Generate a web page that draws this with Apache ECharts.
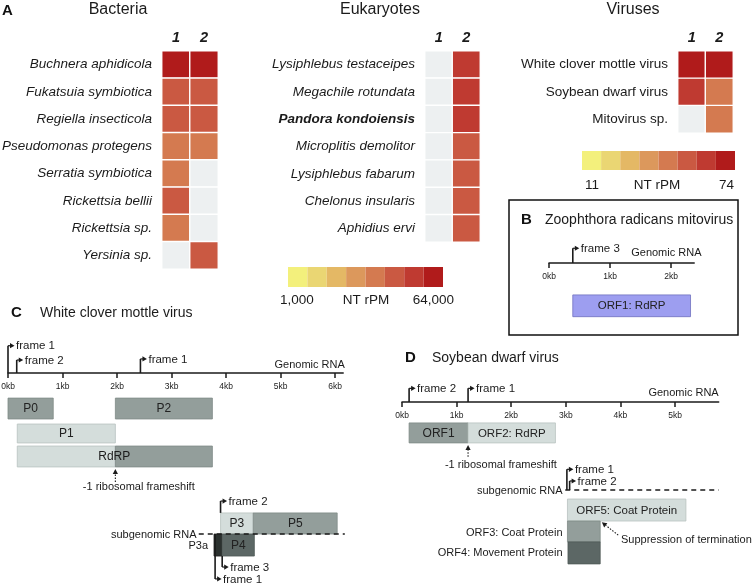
<!DOCTYPE html>
<html><head><meta charset="utf-8">
<script src="https://cdn.jsdelivr.net/npm/echarts@6/dist/echarts.min.js"></script>
<style>html,body{margin:0;padding:0;background:#fff}#c{width:752px;height:585px}</style>
</head><body><div id="c"></div>
<script>
// ---------------- DATA ----------------
const sampleCols = ['1', '2'];

const bacteria = ['Buchnera aphidicola', 'Fukatsuia symbiotica', 'Regiella insecticola', 'Pseudomonas protegens',
  'Serratia symbiotica', 'Rickettsia bellii', 'Rickettsia sp.', 'Yersinia sp.'];
const bacteriaS1 = [50000, 18000, 18000, 10000, 10000, 18000, 10000, null];
const bacteriaS2 = [50000, 18000, 18000, 10000, null, null, null, 18000];

const eukaryotes = ['Lysiphlebus testaceipes', 'Megachile rotundata', 'Pandora kondoiensis', 'Microplitis demolitor',
  'Lysiphlebus fabarum', 'Chelonus insularis', 'Aphidius ervi'];
const eukaryotesS1 = [null, null, null, null, null, null, null];
const eukaryotesS2 = [30000, 30000, 30000, 18000, 18000, 18000, 18000];
const boldNames = ['Pandora kondoiensis'];

const viruses = ['White clover mottle virus', 'Soybean dwarf virus', 'Mitovirus sp.'];
const virusesS1 = [68, 52, null];
const virusesS2 = [68, 32, 32];

const rpmRange = [1000, 64000];
const rpmLabels = ['1,000', 'NT rPM', '64,000'];
const virusRange = [11, 74];
const virusLabels = ['11', 'NT rPM', '74'];

// B: Zoophthora radicans mitovirus  [label, startKb, endKb, lane, shade]
const zrmvTicks = [0, 1, 2];
const zrmvORFs = [['ORF1: RdRP', 0.39, 2.32, 0, 'purple']];
const zrmvFrames = [['frame 3', 0.39, 0, -0.67]];          // [label, kb, fromRow, toRow]
const zrmvNotes = [['Genomic RNA', 2.50, -0.49, 'right']]; // [text, kb, row, align]

// C: White clover mottle virus
const wcmvTicks = [0, 1, 2, 3, 4, 5, 6];
const wcmvORFs = [
  ['P0', 0.00, 0.83, 0, 'mid'],
  ['P2', 1.97, 3.75, 0, 'mid'],
  ['P1', 0.17, 1.97, 1, 'light'],
  ['', 0.17, 1.97, 2, 'light'],
  ['', 1.97, 3.75, 2, 'mid'],
  ['P3', 3.90, 4.50, 3, 'light'],
  ['P5', 4.50, 6.04, 3, 'mid'],
  ['', 3.78, 3.93, 4, 'black'],
  ['P4', 3.93, 4.52, 4, 'dark']
];
const wcmvFrames = [
  ['frame 1', 0.00, 0, -1.24],
  ['frame 2', 0.16, 0, -0.59],
  ['frame 1', 2.43, 0, -0.64],
  ['frame 2', 3.90, 6.36, 5.82],
  ['frame 3', 3.93, 8.32, 8.82],
  ['frame 1', 3.80, 7.32, 9.36]
];
const wcmvNotes = [
  ['Genomic RNA', 6.18, -0.41, 'right'],
  ['RdRP', 1.95, 3.80, 'center'],
  ['-1 ribosomal frameshift', 2.40, 5.14, 'center'],
  ['subgenomic RNA', 3.46, 7.32, 'right'],
  ['P3a', 3.67, 7.82, 'right']
];
const wcmvSubRNA = [[3.50, 6.18, 7.32]];
const wcmvPointers = [[1.97, 4.95, 1.97, 4.36]];

// D: Soybean dwarf virus
const sbdvTicks = [0, 1, 2, 3, 4, 5];
const sbdvORFs = [
  ['ORF1', 0.13, 1.21, 0, 'mid'],
  ['ORF2: RdRP', 1.21, 2.81, 0, 'light'],
  ['ORF5: Coat Protein', 3.03, 5.20, 1, 'light'],
  ['', 3.03, 3.63, 2, 'mid'],
  ['', 3.04, 3.63, 3, 'dark']
];
const sbdvFrames = [
  ['frame 2', 0.13, 0, -0.62],
  ['frame 1', 1.21, 0, -0.62],
  ['frame 1', 3.02, 4.0, 3.06],
  ['frame 2', 3.07, 4.0, 3.59]
];
const sbdvNotes = [
  ['Genomic RNA', 5.80, -0.45, 'right'],
  ['-1 ribosomal frameshift', 1.81, 2.82, 'center'],
  ['subgenomic RNA', 2.94, 4.0, 'right'],
  ['ORF3: Coat Protein', 2.94, 5.91, 'right'],
  ['ORF4: Movement Protein', 2.94, 6.86, 'right'],
  ['Suppression of termination', 4.01, 6.24, 'left']
];
const sbdvSubRNA = [[2.99, 5.80, 4.0]];
const sbdvPointers = [[1.21, 2.49, 1.21, 1.95], [3.96, 6.05, 3.66, 5.47]];

// ---------------- LAYOUT / STYLE ----------------
const FONT = '"Liberation Sans", Arial, Helvetica, sans-serif';
const INK = '#1b1b1b';
const EMPTY = '#edf0f1';
const palette = ['#f3f07c', '#ead673', '#e4b865', '#dc985c', '#d47a50', '#ca5942', '#bf3a31', '#b01b1b'];
const SHADES = {
  light: {fill: '#d4dddb', stroke: '#b9c3c0'},
  mid: {fill: '#939e9b', stroke: '#7f8a87'},
  dark: {fill: '#5c6765', stroke: '#4f5957'},
  black: {fill: '#2b312f', stroke: '#222'},
  purple: {fill: '#9d9ef0', stroke: '#6f70bf'}
};
const LANES = {
  B: [[1.45, 2.44]],
  C: [[1.14, 2.09], [2.32, 3.18], [3.32, 4.27], [6.36, 7.32], [7.32, 8.32]],
  D: [[0.95, 1.86], [4.41, 5.41], [5.41, 6.36], [6.36, 7.36]]
};
const ROW = 22; // px per diagram row

function binEdges(lo, hi, n) {
  const e = [];
  for (let k = 0; k <= n; k++) e.push(lo * Math.pow(hi / lo, k / n));
  return e;
}
function pieces(range) {
  const n = palette.length, e = binEdges(range[0], range[1], n);
  const p = [{lt: e[0], color: EMPTY}];
  for (let k = 0; k < n; k++) {
    if (k === n - 1) p.push({gte: e[k], color: palette[k]});
    else p.push({gte: e[k], lt: e[k + 1], color: palette[k]});
  }
  return p;
}
function heatData(s1, s2) {
  const d = [];
  [s1, s2].forEach((col, j) => col.forEach((v, i) => d.push([j, i, v == null ? 0 : v])));
  return d;
}

const grids = [
  {left: 162, top: 51, width: 56, height: 218},   // 0 bacteria
  {left: 425, top: 51, width: 55, height: 191},   // 1 eukaryotes
  {left: 678, top: 51, width: 55, height: 82},    // 2 viruses
  {left: 288, top: 267, width: 155, height: 20},  // 3 rpm colorbar
  {left: 582, top: 151, width: 153, height: 19},  // 4 virus colorbar
  {left: 549, top: 263, width: 2.38 * 61, height: 2.6 * ROW},   // 5 B (top = genome axis)
  {left: 8, top: 373, width: 6.15 * 54.5, height: 9.5 * ROW},   // 6 C
  {left: 402, top: 402, width: 5.8 * 54.6, height: 8 * ROW}     // 7 D
].map(g => Object.assign({outerBoundsMode: 'none', containLabel: false}, g));

const xAxes = [], yAxes = [];
function heatAxes(gi, names, italic) {
  xAxes.push({gridIndex: gi, type: 'category', data: sampleCols, position: 'top',
    axisLine: {show: false}, axisTick: {show: false}, splitLine: {show: false},
    axisLabel: {fontSize: 14.5, fontWeight: 'bold', fontStyle: 'italic', color: INK, margin: 6, fontFamily: FONT}});
  yAxes.push({gridIndex: gi, type: 'category', data: names, inverse: true,
    axisLine: {show: false}, axisTick: {show: false}, splitLine: {show: false},
    axisLabel: {interval: 0, fontSize: 13.5, fontStyle: italic ? 'italic' : 'normal', color: INK, margin: 10, fontFamily: FONT,
      formatter: v => boldNames.indexOf(v) >= 0 ? '{b|' + v + '}' : v,
      rich: {b: {fontWeight: 'bold', fontStyle: 'italic', fontSize: 13.5, color: INK, fontFamily: FONT}}}});
}
heatAxes(0, bacteria, true);
heatAxes(1, eukaryotes, true);
heatAxes(2, viruses, false);
[3, 4].forEach(gi => {
  xAxes.push({gridIndex: gi, type: 'category', data: palette.map((c, i) => i), show: false});
  yAxes.push({gridIndex: gi, type: 'value', min: 0, max: 1, show: false});
});
function diagAxes(gi, ticks, maxKb, yMax) {
  xAxes.push({gridIndex: gi, type: 'value', min: 0, max: maxKb, position: 'top',
    axisLine: {show: true, onZero: false, lineStyle: {color: INK, width: 1.5}},
    axisTick: {show: true, inside: true, customValues: ticks, length: 5, lineStyle: {color: INK, width: 1.5}},
    axisLabel: {show: true, inside: true, customValues: ticks, formatter: v => v + 'kb', fontSize: 8.5, margin: 9,
      color: INK, fontFamily: FONT},
    splitLine: {show: false}});
  yAxes.push({gridIndex: gi, type: 'value', min: 0, max: yMax, inverse: true, show: false, splitLine: {show: false}});
}
diagAxes(5, zrmvTicks, 2.38, 2.6);
diagAxes(6, wcmvTicks, 6.15, 9.5);
diagAxes(7, sbdvTicks, 5.8, 8);

const series = [];
[[bacteriaS1, bacteriaS2], [eukaryotesS1, eukaryotesS2], [virusesS1, virusesS2]].forEach((s, gi) => {
  series.push({type: 'heatmap', xAxisIndex: gi, yAxisIndex: gi, data: heatData(s[0], s[1]),
    itemStyle: {borderColor: '#fff', borderWidth: 1.4}, emphasis: {disabled: true}, silent: true});
});
[3, 4].forEach(gi => {
  series.push({type: 'bar', xAxisIndex: gi, yAxisIndex: gi, barWidth: '100%', barCategoryGap: '0%', silent: true,
    data: palette.map(c => ({value: 1, itemStyle: {color: c}}))});
});

function orfSeries(gi, orfs, lanes) {
  return {type: 'custom', xAxisIndex: gi, yAxisIndex: gi, clip: false, silent: true,
    data: orfs.map(o => [o[1], o[2], lanes[o[3]][0], lanes[o[3]][1]]),
    renderItem: (params, api) => {
      const o = orfs[params.dataIndex], sh = SHADES[o[4]];
      const p0 = api.coord([api.value(0), api.value(2)]);
      const p1 = api.coord([api.value(1), api.value(3)]);
      const ch = [{type: 'rect', shape: {x: p0[0], y: p0[1], width: p1[0] - p0[0], height: p1[1] - p0[1]},
        style: {fill: sh.fill, stroke: sh.stroke, lineWidth: 0.8}}];
      if (o[0]) ch.push({type: 'text', style: {text: o[0], x: (p0[0] + p1[0]) / 2, y: (p0[1] + p1[1]) / 2 + 0.5,
        align: 'center', verticalAlign: 'middle', font: (o[0].length > 4 ? '11.5px ' : '12px ') + FONT, fill: '#222'}});
      return {type: 'group', children: ch};
    }};
}
function frameSeries(gi, frames) {
  return {type: 'custom', xAxisIndex: gi, yAxisIndex: gi, clip: false, silent: true,
    data: frames.map(f => [f[1], f[2], f[3]]),
    renderItem: (params, api) => {
      const f = frames[params.dataIndex];
      const a = api.coord([api.value(0), api.value(1)]);
      const b = api.coord([api.value(0), api.value(2)]);
      return {type: 'group', children: [
        {type: 'line', shape: {x1: a[0], y1: a[1], x2: b[0], y2: b[1]}, style: {stroke: INK, lineWidth: 1.6}},
        {type: 'line', shape: {x1: b[0], y1: b[1], x2: b[0] + 3, y2: b[1]}, style: {stroke: INK, lineWidth: 1.2}},
        {type: 'polygon', shape: {points: [[b[0] + 2, b[1] - 2.6], [b[0] + 6.5, b[1]], [b[0] + 2, b[1] + 2.6]]}, style: {fill: INK}},
        {type: 'text', style: {text: f[0], x: b[0] + 8, y: b[1] + 0.5, verticalAlign: 'middle', font: '11.5px ' + FONT, fill: INK}}
      ]};
    }};
}
function noteSeries(gi, notes) {
  return {type: 'custom', xAxisIndex: gi, yAxisIndex: gi, clip: false, silent: true,
    data: notes.map(n => [n[1], n[2]]),
    renderItem: (params, api) => {
      const n = notes[params.dataIndex];
      const p = api.coord([api.value(0), api.value(1)]);
      return {type: 'text', style: {text: n[0], x: p[0], y: p[1] + 0.5, align: n[3], verticalAlign: 'middle',
        font: (n[0] === 'RdRP' ? '12px ' : '11px ') + FONT, fill: INK}};
    }};
}
function rnaSeries(gi, lines) {
  return {type: 'custom', xAxisIndex: gi, yAxisIndex: gi, clip: false, silent: true,
    data: lines,
    renderItem: (params, api) => {
      const a = api.coord([api.value(0), api.value(2)]);
      const b = api.coord([api.value(1), api.value(2)]);
      return {type: 'line', shape: {x1: a[0], y1: a[1], x2: b[0], y2: b[1]},
        style: {stroke: INK, lineWidth: 1.5, lineDash: [5, 4]}};
    }};
}
function pointerSeries(gi, ptrs) {
  return {type: 'custom', xAxisIndex: gi, yAxisIndex: gi, clip: false, silent: true,
    data: ptrs,
    renderItem: (params, api) => {
      const a = api.coord([api.value(0), api.value(1)]);
      const b = api.coord([api.value(2), api.value(3)]);
      const ang = Math.atan2(b[1] - a[1], b[0] - a[0]);
      const L = 5, W = 2.6;
      const bx = b[0] - L * Math.cos(ang), by = b[1] - L * Math.sin(ang);
      const nx = -Math.sin(ang) * W, ny = Math.cos(ang) * W;
      return {type: 'group', children: [
        {type: 'line', shape: {x1: a[0], y1: a[1], x2: bx, y2: by}, style: {stroke: INK, lineWidth: 1.1, lineDash: [1.5, 1.5]}},
        {type: 'polygon', shape: {points: [[b[0], b[1]], [bx + nx, by + ny], [bx - nx, by - ny]]}, style: {fill: INK}}
      ]};
    }};
}

series.push(orfSeries(5, zrmvORFs, LANES.B), frameSeries(5, zrmvFrames), noteSeries(5, zrmvNotes));
series.push(orfSeries(6, wcmvORFs, LANES.C), frameSeries(6, wcmvFrames), noteSeries(6, wcmvNotes),
  rnaSeries(6, wcmvSubRNA), pointerSeries(6, wcmvPointers));
series.push(orfSeries(7, sbdvORFs, LANES.D), frameSeries(7, sbdvFrames), noteSeries(7, sbdvNotes),
  rnaSeries(7, sbdvSubRNA), pointerSeries(7, sbdvPointers));

function txt(text, x, y, size, opts) {
  return {type: 'text', x: x, y: y, silent: true,
    style: Object.assign({text: text, font: size + 'px ' + FONT, fill: INK, align: 'left', verticalAlign: 'middle'}, opts || {})};
}
function bold(text, x, y, size) {
  return {type: 'text', x: x, y: y, silent: true,
    style: {text: text, font: 'bold ' + size + 'px ' + FONT, fill: '#111', align: 'left', verticalAlign: 'middle'}};
}
const graphic = [
  bold('A', 2, 11, 15),
  txt('Bacteria', 118, 10, 16, {align: 'center'}),
  txt('Eukaryotes', 380, 10, 16, {align: 'center'}),
  txt('Viruses', 633, 10, 16, {align: 'center'}),
  txt(rpmLabels[0], 280, 300, 13.5),
  txt(rpmLabels[1], 366, 300, 13.5, {align: 'center'}),
  txt(rpmLabels[2], 454, 300, 13.5, {align: 'right'}),
  txt(virusLabels[0], 585, 185, 13.5),
  txt(virusLabels[1], 657, 185, 13.5, {align: 'center'}),
  txt(virusLabels[2], 734, 185, 13.5, {align: 'right'}),
  {type: 'rect', silent: true, shape: {x: 509, y: 200, width: 229, height: 135}, style: {fill: 'none', stroke: '#111', lineWidth: 1.5}},
  bold('B', 521, 220, 15),
  txt('Zoophthora radicans mitovirus', 545, 220, 14),
  bold('C', 11, 313, 15),
  txt('White clover mottle virus', 40, 313, 14),
  bold('D', 405, 358, 15),
  txt('Soybean dwarf virus', 432, 358, 14)
];

const chart = echarts.init(document.getElementById('c'), null, {renderer: 'canvas'});
chart.setOption({
  backgroundColor: '#fff',
  animation: false,
  grid: grids,
  xAxis: xAxes,
  yAxis: yAxes,
  visualMap: [
    {type: 'piecewise', show: false, seriesIndex: [0, 1], dimension: 2, pieces: pieces(rpmRange)},
    {type: 'piecewise', show: false, seriesIndex: [2], dimension: 2, pieces: pieces(virusRange)}
  ],
  series: series,
  graphic: graphic
});
</script></body></html>
